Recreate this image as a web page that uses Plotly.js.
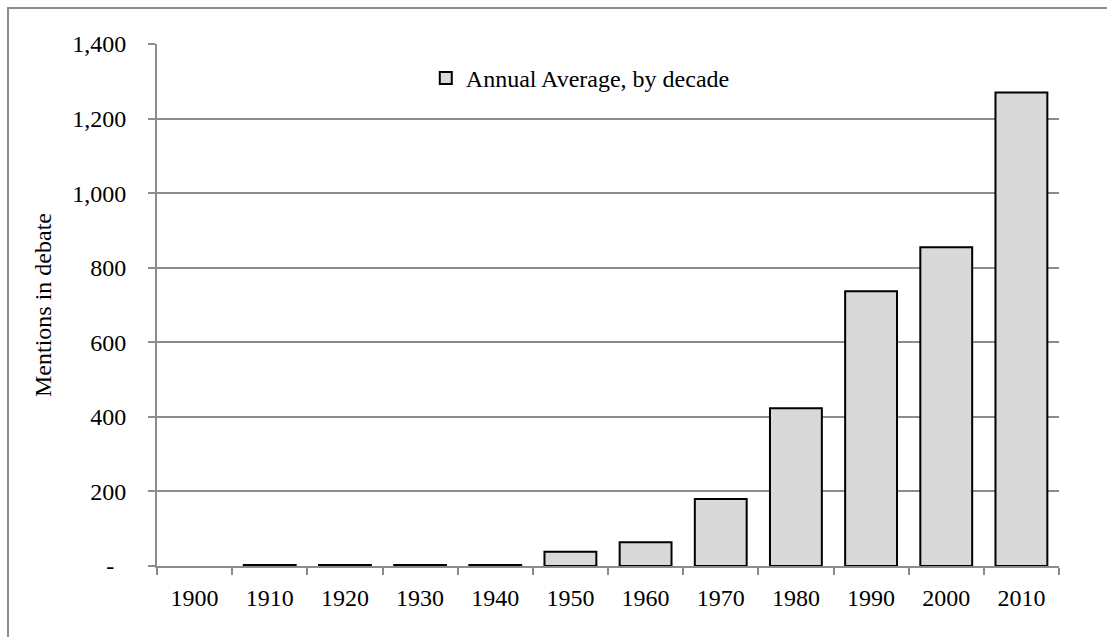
<!DOCTYPE html>
<html>
<head>
<meta charset="utf-8">
<script src="https://cdn.plot.ly/plotly-3.0.1.min.js"></script>
<style>
html,body{margin:0;padding:0;background:#fff;}
#chart{width:1107px;height:637px;}
</style>
</head>
<body>
<div id="chart"></div>
<script>
const decades = ["1900","1910","1920","1930","1940","1950","1960","1970","1980","1990","2000","2010"];
const annualAverage = [null, 3, 3, 3, 3, 38, 64, 180, 423, 737, 855, 1270];
const yTickVals = [0, 200, 400, 600, 800, 1000, 1200, 1400];
const yTickText = ["-\u00a0\u00a0", "200", "400", "600", "800", "1,000", "1,200", "1,400"];
const seriesName = "Annual Average, by decade";
const yTitle = "Mentions in debate";

const FONT = "Liberation Serif, Times New Roman, serif";
const GRID = "#8c8c8c";

const trace = {
  type: "bar",
  x: decades,
  y: annualAverage,
  name: seriesName,
  marker: {color: "#d9d9d9", line: {color: "#000000", width: 2}},
  showlegend: true,
  hoverinfo: "x+y"
};

const layout = {
  width: 1107,
  height: 637,
  margin: {l: 157, r: 48, t: 44, b: 71, pad: 0},
  paper_bgcolor: "#ffffff",
  plot_bgcolor: "#ffffff",
  font: {family: FONT, size: 24, color: "#000000"},
  bargap: 0.31,
  showlegend: true,
  legend: {
    x: 0.298, y: 0.934, xanchor: "left", yanchor: "middle",
    bgcolor: "rgba(0,0,0,0)", borderwidth: 0,
    font: {family: FONT, size: 24, color: "#000"},
    itemwidth: 30
  },
  xaxis: {
    type: "category",
    tickson: "boundaries",
    ticks: "outside",
    ticklen: 7,
    tickwidth: 2,
    tickcolor: GRID,
    showline: true,
    linecolor: GRID,
    linewidth: 2,
    showgrid: false,
    zeroline: false,
    ticklabelstandoff: 9,
    tickfont: {family: FONT, size: 24, color: "#000"},
    automargin: false
  },
  yaxis: {
    range: [0, 1400],
    tickvals: yTickVals,
    ticktext: yTickText,
    ticks: "outside",
    ticklen: 7,
    tickwidth: 2,
    tickcolor: GRID,
    showline: true,
    linecolor: GRID,
    linewidth: 2,
    showgrid: true,
    gridcolor: GRID,
    gridwidth: 2,
    zeroline: false,
    ticklabelstandoff: 17,
    tickfont: {family: FONT, size: 24, color: "#000"},
    title: {text: yTitle, font: {family: FONT, size: 24, color: "#000"}, standoff: 14},
    automargin: false
  },
  shapes: [{
    type: "rect", xref: "paper", yref: "paper",
    x0: (8 - 157) / 902, x1: 1.2, y0: -0.3, y1: (566 - 8) / 522,
    line: {color: "#8c8c8c", width: 2}, fillcolor: "rgba(0,0,0,0)", layer: "below"
  }]
};

Plotly.newPlot("chart", [trace], layout, {displayModeBar: false, staticPlot: true});
</script>
</body>
</html>
